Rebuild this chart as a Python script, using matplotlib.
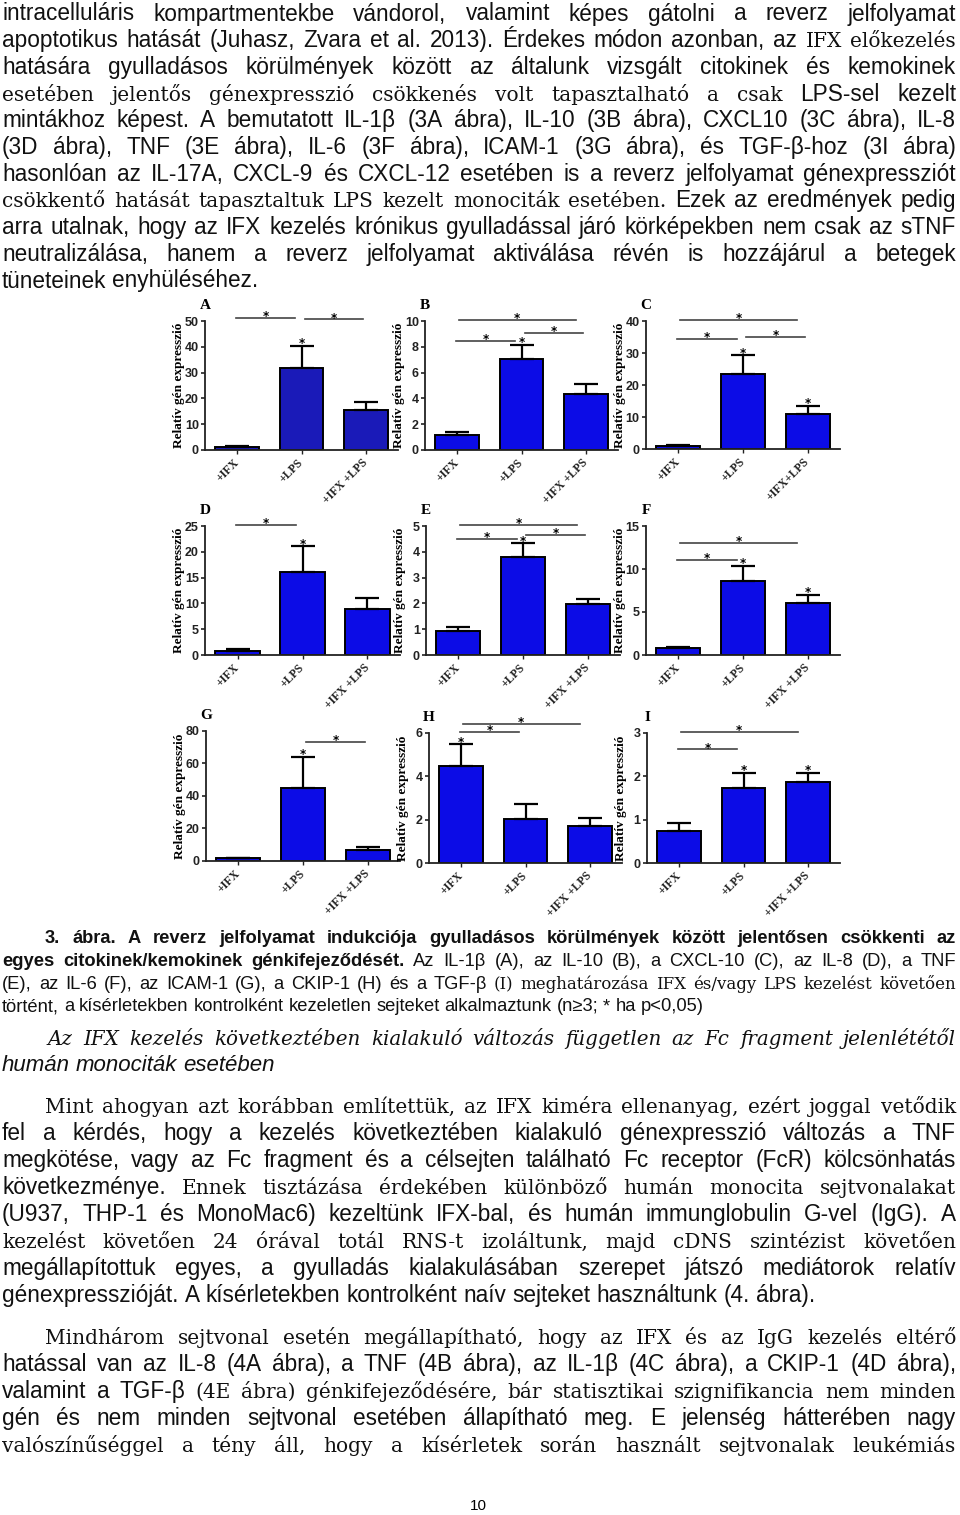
import matplotlib
matplotlib.use('Agg')
import matplotlib.pyplot as plt
from matplotlib import font_manager

# page with 9 bar panels (3. ábra) and the surrounding text
W, H = 960, 1515
fig = plt.figure(figsize=(W / 100, H / 100), dpi=100)
renderer = fig.canvas.get_renderer()

installed = {f.name for f in font_manager.fontManager.ttflist}
NARROW = 'Liberation Sans Narrow' if 'Liberation Sans Narrow' in installed else 'Liberation Sans'

# ---- data ----
panel_letters = ['A', 'B', 'C', 'D', 'E', 'F', 'G', 'H', 'I']
groups = ['+IFX', '+LPS', '+IFX +LPS']
groups_C = ['+IFX', '+LPS', '+IFX+LPS']

mean_A, err_A = [1.2, 31.8, 15.5], [0.2, 8.5, 3.2]
mean_B, err_B = [1.16, 7.04, 4.33], [0.26, 1.13, 0.75]
mean_C, err_C = [1.0, 23.3, 11.0], [0.35, 6.0, 2.5]
mean_D, err_D = [0.84, 16.15, 8.85], [0.26, 4.95, 2.25]
mean_E, err_E = [0.93, 3.81, 1.98], [0.17, 0.52, 0.19]
mean_F, err_F = [0.78, 8.64, 6.08], [0.19, 1.71, 0.9]
mean_G, err_G = [1.6, 45.0, 6.6], [0.2, 19.0, 1.8]
mean_H, err_H = [4.46, 2.02, 1.69], [1.02, 0.69, 0.40]
mean_I, err_I = [0.73, 1.73, 1.86], [0.20, 0.35, 0.22]

ymax = [50, 10, 40, 25, 5, 15, 80, 6, 3]
ystep = [10, 2, 10, 5, 1, 5, 20, 2, 1]

# stars over single bars (index of bar)
stars_on_bar = [[1], [1], [1, 2], [1], [1], [1, 2], [1], [0], [1, 2]]
# significance lines: (bar i, bar j, height)
brackets = [
    [(0, 1, 51.2), (1, 2, 50.6)],
    [(0, 2, 10.1), (0, 1, 8.45), (1, 2, 9.07)],
    [(0, 2, 40.4), (0, 1, 34.5), (1, 2, 35.0)],
    [(0, 1, 25.2)],
    [(0, 2, 5.04), (0, 1, 4.48), (1, 2, 4.64)],
    [(0, 2, 13.06), (0, 1, 11.0)],
    [(1, 2, 73.2)],
    [(0, 2, 6.4), (0, 1, 6.05)],
    [(0, 2, 3.02), (0, 1, 2.62)],
]

means = [mean_A, mean_B, mean_C, mean_D, mean_E, mean_F, mean_G, mean_H, mean_I]
errs = [err_A, err_B, err_C, err_D, err_E, err_F, err_G, err_H, err_I]

# axes boxes in page pixels (left, top, right, bottom)
boxes = [(205, 321, 398, 450), (425, 321, 618, 450), (646, 321, 840, 449),
         (205, 526, 400, 655), (426, 526, 620, 655), (646, 526, 840, 655),
         (206, 731, 400, 861), (429, 733, 622, 863), (647, 733, 840, 863)]
bar_colors = ['#1a1ab8'] + ['#0c0ce6'] * 8


def span(i, j):
    if j - i == 2:
        return i + 0.03, j - 0.16
    if i == 0:
        return i - 0.02, j - 0.1
    return i + 0.05, j - 0.04


serif_b = dict(family='Liberation Serif', weight='bold')
for k in range(9):
    x0, y0, x1, y1 = boxes[k]
    ax = fig.add_axes([x0 / W, 1 - y1 / H, (x1 - x0) / W, (y1 - y0) / H])
    xs = list(range(3))
    m, e = means[k], errs[k]
    ax.bar(xs, m, width=0.68, color=bar_colors[k], edgecolor='black', linewidth=1.4, zorder=2)
    ax.errorbar(xs, m, yerr=[[0, 0, 0], e], fmt='none', ecolor='black',
                elinewidth=1.6, capsize=8.5, capthick=1.6, zorder=3)
    ax.set_xlim(-0.5, 2.5)
    ax.set_ylim(0, ymax[k])
    ticks = list(range(0, ymax[k] + 1, ystep[k]))
    ax.set_yticks(ticks)
    ax.set_yticklabels([str(t) for t in ticks], family='Liberation Sans', weight='bold', size=9)
    ax.set_xticks(xs)
    ax.set_xticklabels(groups_C if k == 2 else groups, rotation=45, ha='right', va='center',
                       rotation_mode='anchor', size=8.5, **serif_b)
    for s in ['top', 'right']:
        ax.spines[s].set_visible(False)
    for s in ['left', 'bottom']:
        ax.spines[s].set_linewidth(1.3)
        ax.spines[s].set_color('#222222')
    ax.tick_params(axis='y', direction='out', length=3, width=1.2, pad=1.5, colors='#222222')
    ax.tick_params(axis='x', direction='out', length=3, width=1.0, pad=5, colors='#222222')
    ax.set_ylabel('Relatív gén expresszió', size=9.5, **serif_b)
    ax.yaxis.set_label_coords(-0.105, 0.5)
    ax.annotate(panel_letters[k], xy=(0, 1), xycoords='axes fraction', xytext=(0, 11),
                textcoords='offset points', ha='center', va='center', size=11, **serif_b)
    for i in stars_on_bar[k]:
        ax.annotate('*', xy=(i, m[i] + e[i]), xytext=(0, -1), textcoords='offset points',
                    ha='center', va='baseline', size=8.5, weight='bold', annotation_clip=False)
    for i, j, yv in brackets[k]:
        a, b = span(i, j)
        ax.plot([a, b], [yv, yv], color='#444444', lw=1.2, clip_on=False)
        ax.annotate('*', xy=((a + b) / 2, yv), xytext=(0, -1.5), textcoords='offset points',
                    ha='center', va='baseline', size=8.5, weight='bold', annotation_clip=False)

# ---- text ----
STY = {
    's': dict(family='Liberation Sans', size=16.3),
    'r': dict(family='DejaVu Serif', size=14.5),
    'ri': dict(family='DejaVu Serif', style='italic', size=14.3),
    'si': dict(family='Liberation Sans', style='italic', size=16),
    'n': dict(family=NARROW, size=13.2),
    'nb': dict(family=NARROW, size=13.2, weight='bold'),
    'nr': dict(family='DejaVu Serif', size=12),
}


def put_line(y, segs, x0=2, x1=956, justify=True):
    words = [(w, STY[key]) for key, txt in segs for w in txt.split()]
    arts = [fig.text(0, 1 - y / H, w, ha='left', va='baseline', color='#111111', **sty)
            for w, sty in words]
    space = 0.27 * arts[0].get_fontsize() * 100 / 72
    widths = [a.get_window_extent(renderer).width for a in arts]
    if justify:
        gap = (x1 - x0 - sum(widths)) / (len(arts) - 1)
        if gap < 0.5 * space:
            f = (x1 - x0 - 0.5 * space * (len(arts) - 1)) / sum(widths)
            for a in arts:
                a.set_fontsize(a.get_fontsize() * f)
            widths = [a.get_window_extent(renderer).width for a in arts]
            gap = (x1 - x0 - sum(widths)) / (len(arts) - 1)
    else:
        gap = space
    x = x0
    for a, w in zip(arts, widths):
        a.set_x(x / W)
        x += w + gap


para1 = [
    [('s', 'intracelluláris kompartmentekbe vándorol, valamint képes gátolni a reverz jelfolyamat')],
    [('s', 'apoptotikus hatását (Juhasz, Zvara et al. 2013). Érdekes módon azonban, az'),
     ('r', 'IFX előkezelés')],
    [('s', 'hatására gyulladásos körülmények között az általunk vizsgált citokinek és kemokinek')],
    [('r', 'esetében jelentős génexpresszió csökkenés volt tapasztalható a csak'),
     ('s', 'LPS-sel kezelt')],
    [('s', 'mintákhoz képest. A bemutatott IL-1β (3A ábra), IL-10 (3B ábra), CXCL10 (3C ábra), IL-8')],
    [('s', '(3D ábra), TNF (3E ábra), IL-6 (3F ábra), ICAM-1 (3G ábra), és TGF-β-hoz (3I ábra)')],
    [('s', 'hasonlóan az IL-17A, CXCL-9 és CXCL-12 esetében is a reverz jelfolyamat génexpressziót')],
    [('r', 'csökkentő hatását tapasztaltuk LPS kezelt monociták esetében.'),
     ('s', 'Ezek az eredmények pedig')],
    [('s', 'arra utalnak, hogy az IFX kezelés krónikus gyulladással járó körképekben nem csak az sTNF')],
    [('s', 'neutralizálása, hanem a reverz jelfolyamat aktiválása révén is hozzájárul a betegek')],
    [('s', 'tüneteinek enyhüléséhez.')],
]
for n, segs in enumerate(para1):
    put_line(20.5 + 26.7 * n, segs, justify=n < len(para1) - 1)

caption = [
    [('nb', '3.  ábra. A reverz jelfolyamat indukciója gyulladásos körülmények között jelentősen csökkenti az')],
    [('nb', 'egyes citokinek/kemokinek génkifejeződését.'),
     ('n', 'Az IL-1β (A), az IL-10 (B), a CXCL-10 (C), az IL-8 (D), a TNF')],
    [('n', '(E), az IL-6 (F), az ICAM-1 (G), a CKIP-1 (H) és a TGF-β'),
     ('nr', '(I) meghatározása IFX és/vagy LPS kezelést követően')],
    [('n', 'történt, a kísérletekben kontrolként kezeletlen sejteket alkalmaztunk (n≥3; * ha p<0,05)')],
]
cap_y = [943, 966, 989, 1011]
for n, segs in enumerate(caption):
    put_line(cap_y[n], segs, x0=45 if n == 0 else 2, justify=n < 3)

put_line(1045, [('ri', 'Az IFX kezelés következtében kialakuló változás független az Fc fragment jelenlététől')],
         x0=48)
put_line(1071, [('si', 'humán monociták esetében')], justify=False)

para2 = [
    [('r', 'Mint ahogyan azt korábban említettük, az IFX kiméra ellenanyag, ezért joggal vetődik')],
    [('s', 'fel a kérdés, hogy a kezelés következtében kialakuló génexpresszió változás a TNF')],
    [('s', 'megkötése, vagy az Fc fragment és a célsejten található Fc receptor (FcR) kölcsönhatás')],
    [('s', 'következménye.'), ('r', 'Ennek tisztázása érdekében különböző humán monocita sejtvonalakat')],
    [('s', '(U937, THP-1 és MonoMac6) kezeltünk IFX-bal, és humán immunglobulin G-vel (IgG). A')],
    [('r', 'kezelést követően 24 órával totál RNS-t izoláltunk, majd cDNS szintézist követően')],
    [('s', 'megállapítottuk egyes, a gyulladás kialakulásában szerepet játszó mediátorok relatív')],
    [('s', 'génexpresszióját. A kísérletekben kontrolként naív sejteket használtunk (4. ábra).')],
]
for n, segs in enumerate(para2):
    put_line(1113 + 27 * n, segs, x0=45 if n == 0 else 2, justify=n < len(para2) - 1)

para3 = [
    [('r', 'Mindhárom sejtvonal esetén megállapítható, hogy az IFX és az IgG kezelés eltérő')],
    [('s', 'hatással van az IL-8 (4A ábra), a TNF (4B ábra), az IL-1β (4C ábra), a CKIP-1 (4D ábra),')],
    [('s', 'valamint a TGF-β'), ('r', '(4E ábra) génkifejeződésére, bár statisztikai szignifikancia nem minden')],
    [('s', 'gén és nem minden sejtvonal esetében állapítható meg. E jelenség hátterében nagy')],
    [('r', 'valószínűséggel a tény áll, hogy a kísérletek során használt sejtvonalak leukémiás')],
]
for n, segs in enumerate(para3):
    put_line(1344 + 27 * n, segs, x0=45 if n == 0 else 2)

fig.text(478 / W, 1 - 1510 / H, '10', ha='center', va='baseline', size=11, family='Liberation Sans')

fig.savefig('out.png', dpi=100)
